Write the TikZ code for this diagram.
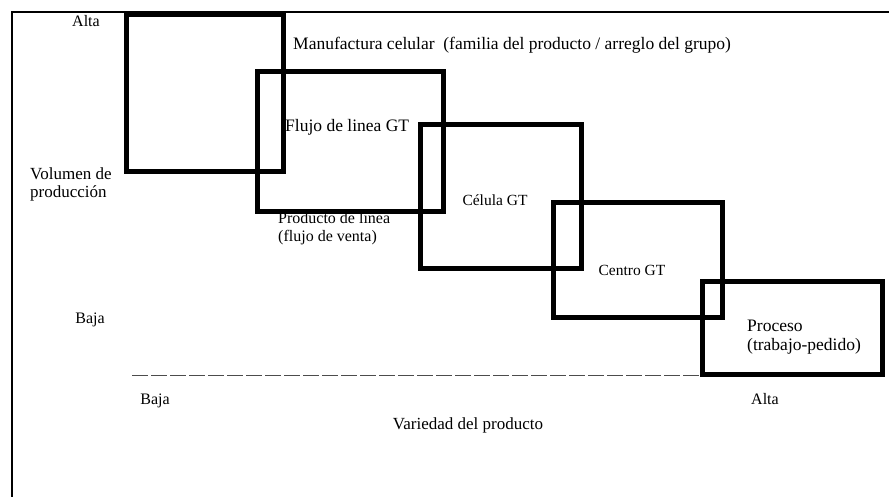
\documentclass[tikz,border=0pt]{standalone}
\usepackage{fontspec}
\setmainfont{Liberation Serif}
\begin{document}
\begin{tikzpicture}[x=1pt,y=-1pt,
  lbl/.style={inner sep=0pt,font=\fontsize{16}{18}\selectfont},
  biglbl/.style={inner sep=0pt,font=\fontsize{17.5}{19.5}\selectfont},
  smalllbl/.style={inner sep=0pt,font=\fontsize{15.5}{17}\selectfont},
  zone/.style={draw=black,line width=5pt,line join=miter},
  frameline/.style={draw=black,line width=1.5pt},
  axisline/.style={draw=black!70,line width=1pt,dash pattern=on 16pt off 3pt}]
\useasboundingbox (0,0) rectangle (889,497);
% frame
\coordinate (fBL) at (12,497);
\coordinate (fTL) at (12,12);
\coordinate (fTR) at (889,12);
\draw[frameline] (fBL) -- (fTL) -- (fTR);
% axis dashed line
\coordinate (axL) at (132,375);
\coordinate (axR) at (702,375);
\draw[axisline] (axL) -- (axR);
% labels
\node[lbl] (altaTop) at (86,21) {Alta};
\node[lbl,anchor=west,align=left,font=\fontsize{17}{18}\selectfont] (volumen) at (30,184) {Volumen de\\producción};
\node[lbl] (bajaLeft) at (90,320) {Baja};
\node[lbl] (bajaBot) at (155,401) {Baja};
\node[lbl] (altaBot) at (765,399) {Alta};
\node[lbl,font=\fontsize{17}{19}\selectfont] (variedad) at (468,425) {Variedad del producto};
\node[biglbl,anchor=west] (manuf) at (293,45) {Manufactura celular\ \ (familia del producto / arreglo del grupo)};
\node[biglbl,anchor=west] (flujo) at (285,127) {Flujo de linea GT};
\node[lbl,anchor=west,align=left] (prodlinea) at (278,229) {Producto de linea\\(flujo de venta)};
\node[smalllbl] (celula) at (495,200) {Célula GT};
\node[smalllbl] (centro) at (632,270) {Centro GT};
\node[biglbl,anchor=west,align=left] (proceso) at (747,337) {Proceso\\(trabajo-pedido)};
% boxes
\draw[zone] (126,15) rectangle (283,172);
\draw[zone] (257,72) rectangle (443,212);
\draw[zone] (420,125) rectangle (581,268);
\draw[zone] (553,203) rectangle (722,317);
\draw[zone] (702,281) rectangle (882,374);
\end{tikzpicture}
\end{document}
